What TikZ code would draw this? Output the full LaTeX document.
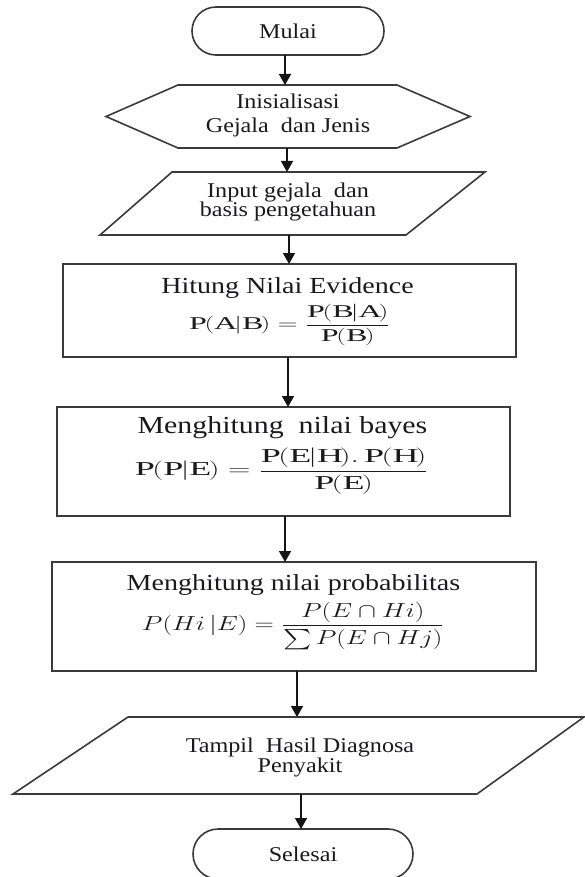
\documentclass[tikz,border=0pt]{standalone}
\usepackage{amsmath}
\usepackage{graphicx}
\usepackage{fontspec}
\setmainfont[FakeStretch=1.15]{Liberation Serif}
\newfontfamily\titlefont[FakeStretch=1.22]{Liberation Serif}
\usetikzlibrary{arrows.meta}

\definecolor{edge}{RGB}{58,58,58}
\definecolor{ink}{RGB}{26,26,30}

\begin{document}
\begin{tikzpicture}[x=1pt,y=-1pt,
  frame/.style={inner sep=0pt, outer sep=0pt},
  outline/.style={draw=edge, line width=1.6pt, line join=miter},
  terminal/.style={frame, draw=edge, line width=1.6pt, rounded corners=24pt,
    minimum height=48pt, text=ink, font=\fontsize{21}{24}\selectfont},
  process/.style={frame, draw=edge, line width=2pt},
  lbl/.style={inner sep=0pt, text=ink, align=center, font=\fontsize{21}{24}\selectfont},
  ttl/.style={inner sep=0pt, text=ink, anchor=base},
  formula/.style={inner sep=0pt, text=ink, font=\fontsize{21}{24}\selectfont},
  arr/.style={draw=black!92, line width=1.5pt, -{Triangle[width=12pt,length=11pt]}}
]
\useasboundingbox (0,0) rectangle (584,877);

% start
\node[terminal, minimum width=192pt] (mulai) at (288,31) {Mulai};

% initialisation (hexagon)
\node[frame, minimum width=364pt, minimum height=63pt] (hex) at (288,116.5) {};
\draw[outline] (hex.west) -- ([xshift=72pt]hex.north west) -- ([xshift=-73pt]hex.north east)
  -- (hex.east) -- ([xshift=-73pt]hex.south east) -- ([xshift=72pt]hex.south west) -- cycle;
\node[lbl] (hextext) at (288,115.5) {Inisialisasi\\Gejala\ \ dan Jenis};

% input (parallelogram)
\node[frame, minimum width=385pt, minimum height=63pt] (inp) at (292.5,203.5) {};
\draw[outline] ([xshift=72pt]inp.north west) -- (inp.north east)
  -- ([xshift=-79pt]inp.south east) -- (inp.south west) -- cycle;
\node[lbl, font=\fontsize{21}{19.5}\selectfont] (inptext) at (288,202)
  {Input gejala\ \ dan\\basis pengetahuan};

% evidence
\node[process, minimum width=453pt, minimum height=93pt] (ev) at (289.5,310.5) {};
\node[ttl, font=\titlefont\fontsize{23}{26}\selectfont] (evtitle) at (287.5,293)
  {Hitung Nilai Evidence};
\node[formula] (evform) at (289.5,325)
  {\resizebox*{201pt}{42pt}{$\displaystyle \mathrm{P(A|B)}=\frac{\mathrm{P(B|A)}}{\mathrm{P(B)}}$}};

% bayes
\node[process, minimum width=453pt, minimum height=109pt] (bay) at (283.5,461.5) {};
\node[ttl, font=\titlefont\fontsize{24.5}{27}\selectfont] (baytitle) at (282.5,433)
  {Menghitung\ \ nilai bayes};
\node[formula] (bayform) at (281.5,471)
  {\resizebox*{293pt}{46pt}{$\displaystyle \mathrm{P(P|E)}=\frac{\mathrm{P(E|H).\,P(H)}}{\mathrm{P(E)}}$}};

% probability
\node[process, minimum width=484pt, minimum height=109pt] (prob) at (294,616.5) {};
\node[ttl, font=\titlefont\fontsize{23}{26}\selectfont] (probtitle) at (293.5,590)
  {Menghitung nilai probabilitas};
\node[formula] (probform) at (293,626)
  {\resizebox*{302pt}{48pt}{$\displaystyle P(Hi\,|E)=\frac{P(E\cap Hi)}{\sum P(E\cap Hj)}$}};

% output (parallelogram)
\node[frame, minimum width=571pt, minimum height=77pt] (out) at (298.5,755.5) {};
\draw[outline] ([xshift=115pt]out.north west) -- (out.north east)
  -- ([xshift=-107pt]out.south east) -- (out.south west) -- cycle;
\node[lbl, font=\fontsize{21}{20}\selectfont] (outtext) at (300,757)
  {Tampil\ \ Hasil Diagnosa\\Penyakit};

% end
\node[terminal, minimum width=220pt, minimum height=50pt, rounded corners=25pt] (selesai) at (303,854) {Selesai};

% flow
\draw[arr] ([xshift=-3pt]mulai.south) -- ([xshift=-3pt]mulai.south |- hex.north);
\draw[arr] ([xshift=-1pt]hex.south) -- ([xshift=-1pt]hex.south |- inp.north);
\draw[arr] ([xshift=-3.5pt]inp.south) -- ([xshift=-3.5pt]inp.south |- ev.north);
\draw[arr] ([xshift=-1.5pt]ev.south) -- ([xshift=-1.5pt]ev.south |- bay.north);
\draw[arr] ([xshift=1.5pt]bay.south) -- ([xshift=1.5pt]bay.south |- prob.north);
\draw[arr] ([xshift=3pt]prob.south) -- ([xshift=3pt]prob.south |- out.north);
\draw[arr] ([xshift=2.5pt]out.south) -- ([xshift=2.5pt]out.south |- selesai.north);
\end{tikzpicture}
\end{document}
